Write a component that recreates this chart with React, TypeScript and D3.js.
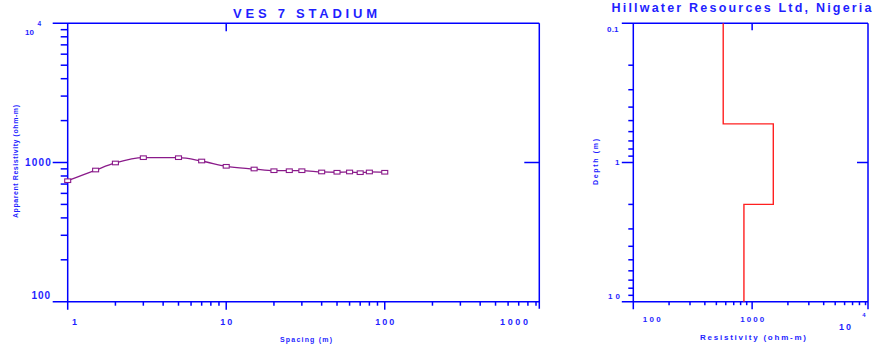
import React from 'react';
import * as d3 from 'd3';

// sounding curve (AB/2 spacing vs apparent resistivity)
const spacing = [1, 1.5, 2, 3, 5, 7, 10, 15, 20, 25, 30, 40, 50, 60, 70, 80, 100];
const apparentRes = [740, 883, 992, 1083, 1083, 1025, 939, 898, 873, 873, 873, 855, 851, 855, 845, 855, 851];

// layered model
const layerRes = [571, 1507, 853];
const layerBottoms = [0.528, 2.0];

const blue = '#0000ff';
const textBlue = '#1f1fff';
const font = '"Liberation Sans", Arial, sans-serif';

const minors = (decades: number[], max: number) =>
  decades.flatMap((d) => d3.range(2, 10).map((k) => k * d)).filter((v) => v < max);

export default function App() {
  // left panel scales
  const xL = d3.scaleLog().domain([1, 10 ** 2.975]).range([67.7, 539.3]);
  const yL = d3.scaleLog().domain([100, 10000]).range([301.7, 23.3]);
  // right panel scales
  const xR = d3.scaleLog().domain([100, 10 ** 3.975]).range([633.3, 868]);
  const yR = d3.scaleLog().domain([0.1, 10]).range([23.3, 301.7]);

  const pts = spacing.map((s, i) => [s, apparentRes[i]] as [number, number]);
  const curve = d3
    .line<[number, number]>()
    .x((d) => xL(d[0]))
    .y((d) => yL(d[1]))
    .curve(d3.curveMonotoneX)(pts);

  const steps: [number, number][] = [];
  let top = 0.1;
  layerRes.forEach((r, i) => {
    const bot = i < layerBottoms.length ? layerBottoms[i] : 10;
    steps.push([r, top], [r, bot]);
    top = bot;
  });
  const model = d3
    .line<[number, number]>()
    .x((d) => xR(d[0]))
    .y((d) => yR(d[1]))(steps);

  const [l0, l1] = xL.range();
  const [lb, lt] = yL.range();
  const [r0, r1] = xR.range();
  const [rt, rb] = yR.range();

  const tick = { fontFamily: font, fontWeight: 700, fill: textBlue } as const;

  return (
    <svg width={873} height={347} style={{ position: 'absolute', left: 0, top: 0, background: '#fff' }}>
      <g stroke={blue} strokeWidth={1.5} fill="none">
        {/* left panel frame */}
        <line x1={l0 - 15} x2={l1} y1={lt} y2={lt} />
        <line x1={l0 - 15} x2={l1} y1={lb} y2={lb} />
        <line x1={l0} x2={l0} y1={lt} y2={lb + 8} />
        <line x1={l1} x2={l1} y1={lt} y2={lb + 7} />
        {minors([100, 1000], 10000).map((v) => (
          <line key={'ly' + v} x1={l0 - 7} x2={l0} y1={yL(v)} y2={yL(v)} />
        ))}
        <line x1={l0 - 15} x2={l0} y1={yL(1000)} y2={yL(1000)} />
        <line x1={l1 - 15} x2={l1} y1={yL(1000)} y2={yL(1000)} />
        {minors([1, 10, 100], xL.domain()[1]).map((v) => (
          <line key={'lx' + v} x1={xL(v)} x2={xL(v)} y1={lb} y2={lb + 4} />
        ))}
        {[10, 100].map((v) => (
          <line key={'lX' + v} x1={xL(v)} x2={xL(v)} y1={lb} y2={lb + 8} />
        ))}
        <line x1={xL(10)} x2={xL(10)} y1={lt} y2={lt + 8} />

        {/* right panel frame */}
        <line x1={r0 - 11.5} x2={r1} y1={rt} y2={rt} />
        <line x1={r0 - 11.5} x2={r1} y1={rb} y2={rb} />
        <line x1={r0} x2={r0} y1={rt} y2={rb + 7.5} />
        <line x1={r1} x2={r1} y1={rt} y2={rb + 7.5} />
        {minors([0.1, 1], 10).map((v) => (
          <line key={'ry' + v} x1={r0 - 5} x2={r0} y1={yR(v)} y2={yR(v)} />
        ))}
        <line x1={r0 - 11.5} x2={r0} y1={yR(1)} y2={yR(1)} />
        <line x1={r1 - 11} x2={r1} y1={yR(1)} y2={yR(1)} />
        {minors([100, 1000], xR.domain()[1]).map((v) => (
          <line key={'rx' + v} x1={xR(v)} x2={xR(v)} y1={rb} y2={rb + 3.5} />
        ))}
        <line x1={xR(1000)} x2={xR(1000)} y1={rb} y2={rb + 7.5} />
        <line x1={xR(1000)} x2={xR(1000)} y1={rt} y2={rt + 7} />
      </g>

      {/* sounding curve */}
      <path d={curve ?? ''} fill="none" stroke="#8a1a8a" strokeWidth={1.3} />
      {pts.map(([s, r]) => (
        <rect
          key={s}
          x={xL(s) - 3}
          y={yL(r) - 1.8}
          width={6}
          height={3.6}
          fill="#fff"
          stroke="#8a1a8a"
          strokeWidth={1.1}
        />
      ))}

      {/* model */}
      <path d={model ?? ''} fill="none" stroke="#ff2020" strokeWidth={1.4} />

      {/* titles */}
      <text x={233} y={18.3} textLength={144} lengthAdjust="spacing" fontSize={13} {...tick}>
        VES 7 STADIUM
      </text>
      <text x={611.5} y={11.7} textLength={260} lengthAdjust="spacing" fontSize={12.5} {...tick}>
        Hillwater Resources Ltd, Nigeria
      </text>

      {/* left panel tick labels */}
      <g fontSize={10} {...tick}>
        <text x={50.7} y={yL(1000)} dy="0.35em" textAnchor="end" textLength={25.7} lengthAdjust="spacing">
          1000
        </text>
        <text x={50} y={295.3} dy="0.35em" textAnchor="end" textLength={18.5} lengthAdjust="spacing">
          100
        </text>
        <text x={25} y={32} dy="0.35em" fontSize={8} textLength={9} lengthAdjust="spacing">
          10
        </text>
        <text x={37.5} y={24} dy="0.35em" fontSize={6.5}>
          4
        </text>
      </g>
      <g fontSize={9} {...tick}>
        <text x={74.5} y={322} dy="0.35em" textAnchor="middle">
          1
        </text>
        <text x={xL(10)} y={322} dy="0.35em" textAnchor="middle" textLength={12} lengthAdjust="spacing">
          10
        </text>
        <text x={xL(100)} y={322} dy="0.35em" textAnchor="middle" textLength={19} lengthAdjust="spacing">
          100
        </text>
        <text x={500} y={322} dy="0.35em" textLength={28} lengthAdjust="spacing">
          1000
        </text>
      </g>
      <text x={306} y={339.5} dy="0.35em" textAnchor="middle" fontSize={7} textLength={52} lengthAdjust="spacing" {...tick}>
        Spacing (m)
      </text>
      <text
        transform="translate(15.7,161.5) rotate(-90)"
        textAnchor="middle"
        dy="0.35em"
        fontSize={7}
        textLength={113}
        lengthAdjust="spacing"
        {...tick}
      >
        Apparent Resistivity (ohm-m)
      </text>

      {/* right panel tick labels */}
      <g fontSize={8} {...tick}>
        <text x={618.5} y={29.3} dy="0.35em" textAnchor="end" textLength={11.5} lengthAdjust="spacing">
          0.1
        </text>
        <text x={619.5} y={yR(1)} dy="0.35em" textAnchor="end">
          1
        </text>
        <text x={620} y={295.7} dy="0.35em" textAnchor="end" textLength={12} lengthAdjust="spacing">
          10
        </text>
        <text x={651.7} y={319.3} dy="0.35em" textAnchor="middle" textLength={18} lengthAdjust="spacing">
          100
        </text>
        <text x={xR(1000)} y={319.3} dy="0.35em" textAnchor="middle" textLength={24} lengthAdjust="spacing">
          1000
        </text>
        <text x={845} y={326.7} dy="0.35em" textAnchor="middle" fontSize={9} textLength={12} lengthAdjust="spacing">
          10
        </text>
        <text x={864} y={315} dy="0.35em" textAnchor="middle" fontSize={6}>
          4
        </text>
      </g>
      <text x={753} y={337.3} dy="0.35em" textAnchor="middle" fontSize={8} textLength={106} lengthAdjust="spacing" {...tick}>
        Resistivity (ohm-m)
      </text>
      <text
        transform="translate(596,162) rotate(-90)"
        textAnchor="middle"
        dy="0.35em"
        fontSize={7}
        textLength={46}
        lengthAdjust="spacing"
        {...tick}
      >
        Depth (m)
      </text>
    </svg>
  );
}
